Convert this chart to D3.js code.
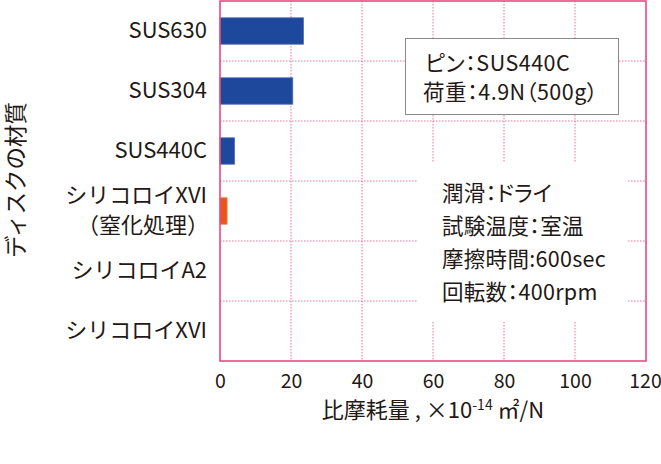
<!DOCTYPE html>
<html><head><meta charset="utf-8">
<script src="https://cdn.jsdelivr.net/npm/d3@7"></script>
<style>
html,body{margin:0;padding:0;background:#fff;}
svg text{font-family:"Noto Sans CJK JP","Noto Sans",sans-serif;fill:#231815;}
.palt{font-feature-settings:"palt";}
</style></head>
<body>
<svg id="c" width="661" height="464"></svg>
<script>
const categories = ["SUS630","SUS304","SUS440C","シリコロイXVI\n（窒化処理）","シリコロイA2","シリコロイXVI"];
const values = [23.5, 20.5, 4.1, 2.0, 0, 0];
const barColors = ["#1e489b","#1e489b","#1e489b","#e8561e","#1e489b","#1e489b"];
const xTicks = [0,20,40,60,80,100,120];
const box1Lines = ["ピン：SUS440C","荷重：4.9N（500g）"];
const box2Lines = ["潤滑：ドライ","試験温度：室温","摩擦時間:600sec","回転数：400rpm"];

const svg = d3.select("#c");
const L = 220, R = 646, T = 1, B = 361;
const x = d3.scaleLinear().domain([0,120]).range([L,R]);
const y = d3.scaleBand().domain(categories).range([T,B]).paddingInner(0.56).paddingOuter(0.28);
const step = y.step();
const pink = "#e94b7d";

// grid
const g = svg.append("g");
g.selectAll(".vg").data(xTicks.filter(d=>d>0&&d<120)).enter().append("line")
  .attr("x1",d=>x(d)).attr("x2",d=>x(d)).attr("y1",T).attr("y2",B)
  .attr("stroke","#ee6e98").attr("stroke-width",1).attr("stroke-dasharray","1.5,1.5");
g.selectAll(".hg").data(d3.range(1,categories.length)).enter().append("line")
  .attr("x1",L).attr("x2",R).attr("y1",i=>T+i*step).attr("y2",i=>T+i*step)
  .attr("stroke","#ee6e98").attr("stroke-width",1).attr("stroke-dasharray","1.5,1.5");

// white mask for box2
svg.append("rect").attr("x",417).attr("y",162).attr("width",211).attr("height",160).attr("fill","#fff");

// bars
svg.selectAll(".bar").data(categories).enter().append("rect")
  .attr("x",x(0)).attr("y",d=>y(d)).attr("height",y.bandwidth())
  .attr("width",(d,i)=>x(values[i])-x(0))
  .attr("fill",(d,i)=>barColors[i])
  .attr("stroke",(d,i)=>values[i]>0?(i===3?"#f07a4a":"#4a6cb8"):"none").attr("stroke-width",0.8);

// frame
svg.append("rect").attr("x",L).attr("y",T).attr("width",R-L).attr("height",B-T)
  .attr("fill","none").attr("stroke",pink).attr("stroke-width",1.6);

// x axis
const xa = svg.append("g").attr("transform",`translate(0,${B})`)
  .call(d3.axisBottom(x).tickValues(xTicks).tickSize(0).tickPadding(13));
xa.select(".domain").remove();
xa.selectAll("text").style("font-size","19.5px").attr("fill","#231815");
xa.selectAll(".tick").filter(d=>d===120).select("text").attr("dx",-1);

// y labels
categories.forEach((c)=>{
  const lines = c.split("\n");
  const cy = y(c)+y.bandwidth()/2 - 3;
  const t = svg.append("text").attr("text-anchor","end").style("font-size","22px");
  lines.forEach((ln,j)=>{
    t.append("tspan").attr("x",207).attr("y",cy + (j-(lines.length-1)/2)*30)
     .attr("dominant-baseline","central").attr("dx", j===1?2:0).text(ln);
  });
});

// axis titles
const xt = svg.append("text").attr("x",433).attr("y",418).attr("text-anchor","middle").style("font-size","22px");
xt.append("tspan").text("比摩耗量 , ×10");
xt.append("tspan").attr("dy",-8).style("font-size","14px").text("-14");
xt.append("tspan").attr("dy",8).text(" ㎡/N");

svg.append("text").attr("transform","translate(14,180) rotate(-90)")
  .attr("text-anchor","middle").attr("dominant-baseline","central").style("font-size","22.5px").text("ディスクの材質");

// box1
svg.append("rect").attr("x",405.5).attr("y",38.5).attr("width",213).attr("height",76)
  .attr("fill","#fff").attr("stroke","#8a8a8a").attr("stroke-width",1);
box1Lines.forEach((s,i)=>{
  svg.append("text").attr("class","palt").attr("x",i===0?425:423).attr("y",61+i*29).attr("dominant-baseline","central")
    .style("font-size","21.5px").attr("letter-spacing",0.5).text(s);
});
// box2
box2Lines.forEach((s,i)=>{
  svg.append("text").attr("class","palt").attr("x",442).attr("y",191+i*33).attr("dominant-baseline","central")
    .style("font-size","21.5px").attr("letter-spacing",0.3).text(s);
});
</script>
</body></html>
